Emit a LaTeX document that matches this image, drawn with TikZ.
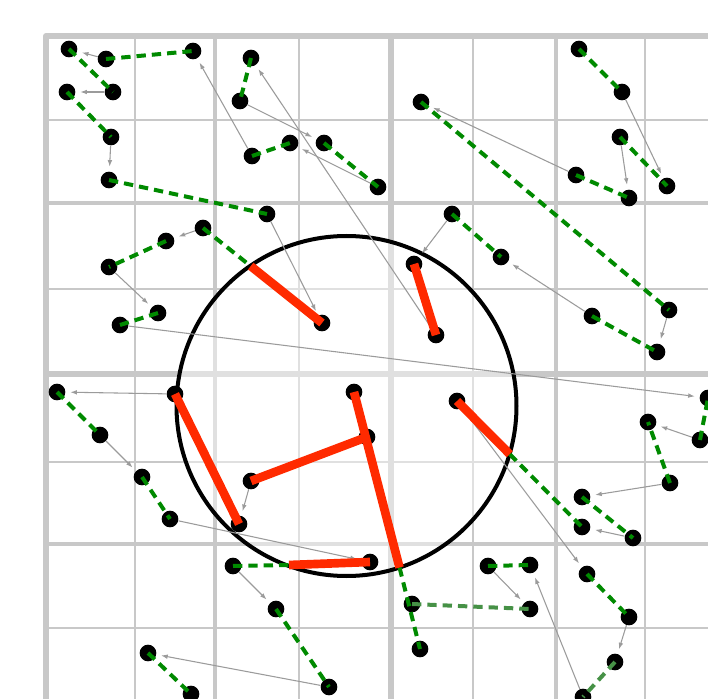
\documentclass[tikz,border=0pt]{standalone}
\usepackage{tikz}
\usetikzlibrary{arrows.meta, calc}
\definecolor{GridGray}{RGB}{200, 200, 200}
\definecolor{TrailGreen}{RGB}{0, 138, 0}
\definecolor{FadedGreen}{RGB}{70, 145, 70}
\definecolor{HitRed}{RGB}{255, 42, 0}
\definecolor{MoveGray}{RGB}{155, 155, 155}

\begin{document}
\begin{tikzpicture}[
    x=0.75pt, y=-0.75pt,
    gridmajor/.style={draw=GridGray, line width=4.5pt, line join=round},
    gridmid/.style={draw=GridGray, line width=3.5pt},
    gridminor/.style={draw=GridGray, line width=2pt},
    query/.style={circle, draw=black, line width=3pt, fill=white, fill opacity=0.45, minimum size=255pt, inner sep=0pt},
    dot/.style={circle, fill=black, inner sep=0pt, minimum size=12.5pt},
    move/.style={-{Latex[length=5pt, width=3.5pt]}, draw=MoveGray, line width=0.8pt, shorten >=3.5pt},
    trail/.style={draw=TrailGreen, line width=3pt, dash pattern=on 7pt off 4.5pt},
    fadedtrail/.style={trail, draw=FadedGreen},
    hit/.style={draw=HitRed, line width=6.5pt}
]
\useasboundingbox (0,0) rectangle (708,699);

% grid
\draw[gridminor] (135,36) -- (135,699) (299,36) -- (299,699) (473,36) -- (473,699) (645,36) -- (645,699)
    (46,120) -- (708,120) (46,289) -- (708,289) (46,462) -- (708,462) (46,628) -- (708,628);
\draw[gridmid] (215,36) -- (215,699) (556,36) -- (556,699) (46,203) -- (708,203) (46,544) -- (708,544);
\draw[gridmajor] (391,36) -- (391,699) (46,374) -- (708,374);
\draw[gridmajor] (46,699) -- (46,36) -- (708,36);

% range query
\node[query] (range) at (346.5,406) {};

% points
\node[dot] (p1) at (69,49) {};
\node[dot] (p2) at (106,59) {};
\node[dot] (p3) at (193,51) {};
\node[dot] (p4) at (67,92) {};
\node[dot] (p5) at (113,92) {};
\node[dot] (p6) at (111,137) {};
\node[dot] (p7) at (109,180) {};
\node[dot] (p8) at (251,58) {};
\node[dot] (p9) at (240,101) {};
\node[dot] (p10) at (252,156) {};
\node[dot] (p11) at (290,143) {};
\node[dot] (p12) at (324,143) {};
\node[dot] (p13) at (267,214) {};
\node[dot] (p14) at (203,228) {};
\node[dot] (p15) at (166,241) {};
\node[dot] (p16) at (109,267) {};
\node[dot] (p17) at (158,313) {};
\node[dot] (p18) at (120,325) {};
\node[dot] (p19) at (322,323) {};
\node[dot] (p20) at (579,49) {};
\node[dot] (p21) at (622,92) {};
\node[dot] (p22) at (421,102) {};
\node[dot] (p23) at (620,137) {};
\node[dot] (p24) at (576,175) {};
\node[dot] (p25) at (629,198) {};
\node[dot] (p26) at (667,186) {};
\node[dot] (p27) at (378,187) {};
\node[dot] (p28) at (452,214) {};
\node[dot] (p29) at (501,257) {};
\node[dot] (p30) at (414,264) {};
\node[dot] (p31) at (436,335) {};
\node[dot] (p32) at (592,316) {};
\node[dot] (p33) at (669,310) {};
\node[dot] (p34) at (657,352) {};
\node[dot] (p35) at (57,392) {};
\node[dot] (p36) at (175,394) {};
\node[dot] (p37) at (100,435) {};
\node[dot] (p38) at (142,477) {};
\node[dot] (p39) at (170,519) {};
\node[dot] (p40) at (251,481) {};
\node[dot] (p41) at (239,524) {};
\node[dot] (p42) at (233,566) {};
\node[dot] (p43) at (276,609) {};
\node[dot] (p44) at (148,653) {};
\node[dot] (p45) at (191,694) {};
\node[dot] (p46) at (329,687) {};
\node[dot] (p47) at (354,392) {};
\node[dot] (p48) at (367,437) {};
\node[dot] (p49) at (457,401) {};
\node[dot] (p50) at (370,562) {};
\node[dot] (p51) at (412,604) {};
\node[dot] (p52) at (420,649) {};
\node[dot] (p53) at (488,566) {};
\node[dot] (p54) at (530,565) {};
\node[dot] (p55) at (530,609) {};
\node[dot] (p56) at (587,574) {};
\node[dot] (p57) at (629,617) {};
\node[dot] (p58) at (615,662) {};
\node[dot] (p59) at (583,697) {};
\node[dot] (p60) at (582,497) {};
\node[dot] (p61) at (582,527) {};
\node[dot] (p62) at (633,538) {};
\node[dot] (p63) at (670,483) {};
\node[dot] (p64) at (648,422) {};
\node[dot] (p65) at (700,440) {};
\node[dot] (p66) at (708,398) {};

% where trails cross the query border
\coordinate (xa) at (250.7,266.1);
\coordinate (xb) at (399.5,567.5);
\coordinate (xc) at (509.7,454.1);
\coordinate (xd) at (289,565);

% moves
\draw[move] (p2) -- (p1);
\draw[move] (p5) -- (p4);
\draw[move] (p6) -- (p7);
\draw[move] (p10) -- (p3);
\draw[move] (p9) -- (p12);
\draw[move] (p31) -- (p8);
\draw[move] (p27) -- (p11);
\draw[move] (p13) -- (p19);
\draw[move] (p14) -- (p15);
\draw[move] (p16) -- (p17);
\draw[move] (p18) -- (p66);
\draw[move] (p21) -- (p26);
\draw[move] (p23) -- (p25);
\draw[move] (p24) -- (p22);
\draw[move] (p28) -- (p30);
\draw[move] (p32) -- (p29);
\draw[move] (p33) -- (p34);
\draw[move] (p36) -- (p35);
\draw[move] (p37) -- (p38);
\draw[move] (p39) -- (p50);
\draw[move] (p40) -- (p41);
\draw[move] (p42) -- (p43);
\draw[move] (p46) -- (p44);
\draw[move] (p49) -- (p56);
\draw[move] (p53) -- (p55);
\draw[move] (p59) -- (p54);
\draw[move] (p57) -- (p58);
\draw[move] (p63) -- (p60);
\draw[move] (p62) -- (p61);
\draw[move] (p65) -- (p64);

% trails
\draw[trail] (p1.center) -- (p5.center);
\draw[trail] (p2.center) -- (p3.center);
\draw[trail] (p4.center) -- (p6.center);
\draw[trail] (p7.center) -- (p13.center);
\draw[trail] (p8.center) -- (p9.center);
\draw[trail] (p10.center) -- (p11.center);
\draw[trail] (p12.center) -- (p27.center);
\draw[trail] (p15.center) -- (p16.center);
\draw[trail] (p17.center) -- (p18.center);
\draw[trail] (p20.center) -- (p21.center);
\draw[trail] (p22.center) -- (p33.center);
\draw[trail] (p23.center) -- (p26.center);
\draw[trail] (p24.center) -- (p25.center);
\draw[trail] (p28.center) -- (p29.center);
\draw[trail] (p32.center) -- (p34.center);
\draw[trail] (p35.center) -- (p37.center);
\draw[trail] (p38.center) -- (p39.center);
\draw[trail] (p43.center) -- (p46.center);
\draw[trail] (p44.center) -- (p45.center);
\draw[trail] (p53.center) -- (p54.center);
\draw[trail] (p56.center) -- (p57.center);
\draw[trail] (p60.center) -- (p62.center);
\draw[trail] (p63.center) -- (p64.center);
\draw[trail] (p65.center) -- (p66.center);
\draw[fadedtrail] (p51.center) -- (p55.center);
\draw[fadedtrail] (p58.center) -- (p59.center);
\draw[trail] (p14.center) -- (xa);
\draw[trail] (xb) -- (p52.center);
\draw[trail] (xc) -- (p61.center);
\draw[trail] (p42.center) -- (xd);

% hits inside the query
\draw[hit] (xa) -- (p19.center);
\draw[hit] (p47.center) -- (xb);
\draw[hit] (p49.center) -- (xc);
\draw[hit] (xd) -- (p50.center);
\draw[hit] (p30.center) -- (p31.center);
\draw[hit] (p36.center) -- (p41.center);
\draw[hit] (p40.center) -- (p48.center);
\end{tikzpicture}
\end{document}
